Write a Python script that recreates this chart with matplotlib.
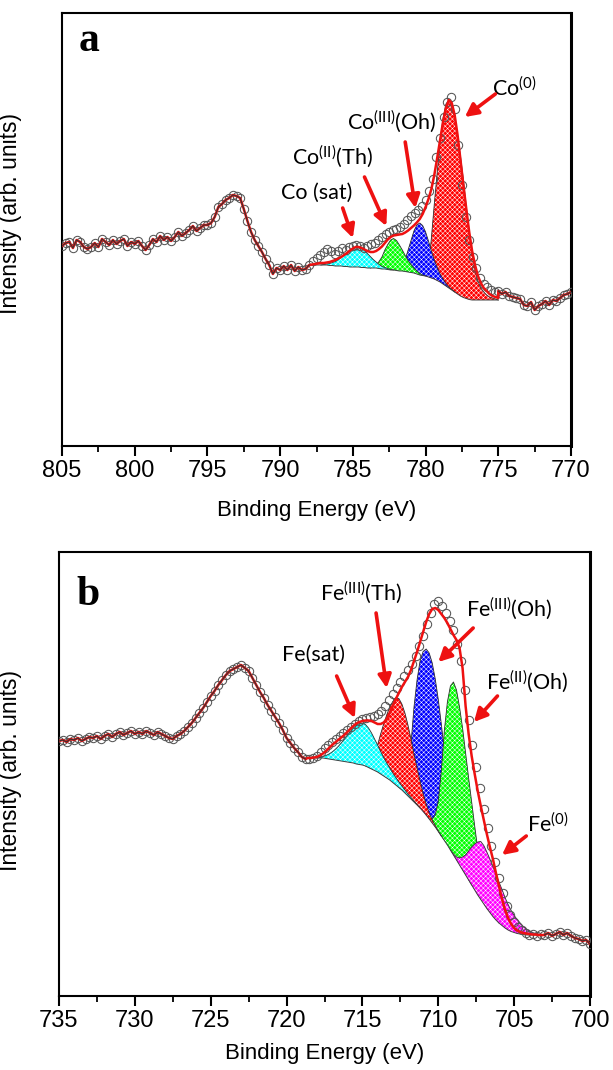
import numpy as np
import matplotlib
matplotlib.use("Agg")
import matplotlib.pyplot as plt
from matplotlib import font_manager

# ---------------- Panel a : Co 2p ----------------
co_e_start, co_e_step = 805.0, 0.25
co_data = [
    199, 202, 203, 197, 205, 203, 198, 196, 198, 202,   # 805.0 ..
    198, 206, 203, 200, 205, 201, 204, 206, 199, 203,   # 802.5 ..
    201, 204, 199, 195, 200, 206, 203, 209, 205, 208,   # 800.0 ..
    204, 208, 213, 209, 212, 215, 219, 214, 217, 220,   # 797.5 ..
    220, 222, 228, 238, 241, 245, 247, 250, 249, 247,   # 795.0 ..
    236, 224, 213, 205, 199, 193, 186, 180, 171, 177,   # 792.5 ..
    175, 179, 175, 180, 174, 178, 175, 176, 180, 184,   # 790.0 ..
    187, 190, 193, 196, 194, 191, 194, 197, 195, 198,   # 787.5 ..
    199, 200, 199, 197, 199, 201, 202, 205, 208, 211,   # 785.0 ..
    213, 215, 216, 218, 221, 225, 229, 232, 235, 239,   # 782.5 ..
    245, 254, 266, 288, 307, 328, 343, 348, 336, 300,   # 780.0 ..
    260, 228, 205, 188, 177, 167, 161, 158, 155, 153,   # 777.5 ..
    154, 151, 153, 149, 148, 147, 146, 140, 139, 143,   # 775.0 ..
    135, 139, 141, 144, 140, 145, 144, 147, 150, 151,   # 772.5 ..
    153,                                                # 770.0
]
co_fit_start, co_fit_step = 788.0, 0.2
co_bg = [
    180, 180, 180, 180, 180, 180, 180, 179.5, 179.5, 179, 179,
    179, 178.5, 178.5, 178, 178, 178, 178, 177.5, 177.5, 177, 177,
    177, 177, 176.5, 176, 176, 175.5, 175, 175, 174.5, 174, 174,
    173.5, 173, 172.5, 172, 171, 170, 169.5, 169, 168, 167, 166,
    164.5, 163, 161, 159, 157, 155, 153, 151, 149, 147.5, 146.5,
    145.5, 145, 145, 145, 145, 145, 145, 145, 145, 145, 145,
]
co_sat = [
    0, 0, 0, 0, 0, 0.5, 1, 2, 3, 4.5, 6.5,
    9, 11.5, 14, 16.5, 18.5, 19.8, 20, 19, 17, 14.5, 11.5,
    8.5, 6, 4, 2.5, 1.5, 1, 0.5, 0, 0, 0, 0,
    0, 0, 0, 0, 0, 0, 0, 0, 0, 0, 0,
    0, 0, 0, 0, 0, 0, 0, 0, 0, 0, 0,
    0, 0, 0, 0, 0, 0, 0, 0, 0, 0, 0,
]
co_th = [
    0, 0, 0, 0, 0, 0, 0, 0, 0, 0, 0,
    0, 0, 0, 0, 0, 0, 0, 0, 0, 0, 0,
    1, 3, 7, 12, 19, 25, 30, 31.5, 30, 26, 21,
    16, 11.5, 8, 5, 3, 1.5, 0.5, 0, 0, 0, 0,
    0, 0, 0, 0, 0, 0, 0, 0, 0, 0, 0,
    0, 0, 0, 0, 0, 0, 0, 0, 0, 0, 0,
]
co_oh = [
    0, 0, 0, 0, 0, 0, 0, 0, 0, 0, 0,
    0, 0, 0, 0, 0, 0, 0, 0, 0, 0, 0,
    0, 0, 0, 0, 0, 0, 0, 0, 0, 1, 4,
    12, 22, 32, 42, 49, 52, 50, 44, 36, 27, 19,
    13, 8, 5, 2.5, 1, 0.5, 0, 0, 0, 0, 0,
    0, 0, 0, 0, 0, 0, 0, 0, 0, 0, 0,
]
co_metal = [
    0, 0, 0, 0, 0, 0, 0, 0, 0, 0, 0,
    0, 0, 0, 0, 0, 0, 0, 0, 0, 0, 0,
    0, 0, 0, 0, 0, 0, 0, 0, 0, 0, 0,
    0, 0, 0, 0, 0, 0, 0, 3, 10, 40, 75,
    108, 140, 166, 182, 188, 185, 174, 158, 140, 118, 92,
    68, 46, 30, 19, 12, 8, 5, 3, 2, 1, 0,
]
co_env = [
    180, 180.5, 181, 181.5, 182, 182, 182.5, 183, 184, 185, 186.5,
    188, 190, 192, 194.5, 196.5, 198, 198, 197, 195.5, 194, 193,
    193, 194, 196, 198.5, 202, 205.5, 208, 209.5, 210, 210.5, 211,
    212.5, 214.5, 217, 219.5, 222.5, 226, 231, 238, 246, 256, 270,
    287, 305, 323, 337, 345, 342, 330, 310, 285, 260, 236,
    213, 194, 180, 169, 162, 157, 154, 151, 149, 148, 147,
]

# ---------------- Panel b : Fe 2p ----------------
fe_e_start, fe_e_step = 735.0, 0.25
fe_data = [
    255, 256, 254, 257, 256, 258, 255, 257, 259, 258,   # 735.0 ..
    260, 257, 260, 262, 259, 262, 264, 261, 263, 265,   # 732.5 ..
    262, 264, 262, 265, 263, 261, 264, 262, 260, 258,   # 730.0 ..
    257, 260, 262, 265, 269, 273, 278, 283, 288, 294,   # 727.5 ..
    300, 305, 311, 316, 321, 325, 327, 329, 331, 328,   # 725.0 ..
    325, 318, 311, 304, 298, 291, 285, 279, 273, 266,   # 722.5 ..
    258, 253, 248, 244, 239, 237, 237, 238, 240, 244,   # 720.0 ..
    248, 251, 254, 257, 260, 263, 266, 269, 272, 275,   # 717.5 ..
    277, 278, 279, 280, 282, 285, 290, 296, 302, 308,   # 715.0 ..
    314, 320, 326, 332, 340, 350, 360, 372, 383, 392,   # 712.5 ..
    395, 390, 383, 375, 366, 352, 335, 306, 276, 251,   # 710.0 ..
    229, 208, 187, 168, 150, 134, 118, 103, 90, 81,     # 707.5 ..
    74, 69, 66, 63, 61, 62, 60, 62, 61, 63,             # 705.0 ..
    60, 62, 64, 61, 63, 60, 58, 57, 55, 56,             # 702.5 ..
    52,                                                 # 700.0
]
fe_fit_start, fe_fit_step = 718.6, 0.2
fe_bg = [
    238, 238, 238, 238, 238, 238, 237.5, 237, 236.5, 236,
    235.5, 235, 234.5, 234, 233.5, 233, 232, 231.5, 231, 230,
    228.5, 227, 225.5, 224, 222, 220, 218, 216, 213.5, 211,
    208.5, 206, 203, 200, 197, 194, 191, 188, 184.5, 181,
    177, 173, 169, 164.5, 160, 155.5, 151, 146, 141, 136,
    131, 126, 121, 116, 111, 106, 101, 96.5, 92, 87.5,
    83.5, 79.5, 76, 73, 70.5, 68, 66, 64.5, 63.5, 62.5,
    62, 61.5, 61, 61, 61, 61, 61, 61, 61,
]
fe_sat = [
    0, 0, 0, 0, 0.5, 1.5, 3, 5, 7.5, 10.5,
    14, 18, 22, 26.5, 31, 35, 38.5, 41, 42, 41.5,
    39.5, 36, 31.5, 27, 22.5, 18.5, 15, 12, 9.5, 7.5,
    5.5, 4, 3, 2, 1.5, 1, 0.5, 0, 0, 0,
    0, 0, 0, 0, 0, 0, 0, 0, 0, 0,
    0, 0, 0, 0, 0, 0, 0, 0, 0, 0,
    0, 0, 0, 0, 0, 0, 0, 0, 0, 0,
    0, 0, 0, 0, 0, 0, 0, 0, 0,
]
fe3_th = [
    0, 0, 0, 0, 0, 0, 0, 0, 0, 0,
    0, 0, 0, 0, 0, 0, 0, 0, 0, 0,
    4, 8, 15, 27, 40, 52, 63, 73, 81, 87,
    89, 86, 80, 71, 60, 48, 37, 27, 18, 11,
    6, 3, 1.5, 0.5, 0, 0, 0, 0, 0, 0,
    0, 0, 0, 0, 0, 0, 0, 0, 0, 0,
    0, 0, 0, 0, 0, 0, 0, 0, 0, 0,
    0, 0, 0, 0, 0, 0, 0, 0, 0,
]
fe3_oh = [
    0, 0, 0, 0, 0, 0, 0, 0, 0, 0,
    0, 0, 0, 0, 0, 0, 0, 0, 0, 0,
    0, 0, 0, 0, 0, 0, 0, 0, 0, 0,
    0, 2, 6, 20, 55, 95, 125, 147, 160, 166,
    166, 160, 148, 132, 112, 90, 68, 48, 32, 19,
    10, 4, 1.5, 0.5, 0, 0, 0, 0, 0, 0,
    0, 0, 0, 0, 0, 0, 0, 0, 0, 0,
    0, 0, 0, 0, 0, 0, 0, 0, 0,
]
fe2_oh = [
    0, 0, 0, 0, 0, 0, 0, 0, 0, 0,
    0, 0, 0, 0, 0, 0, 0, 0, 0, 0,
    0, 0, 0, 0, 0, 0, 0, 0, 0, 0,
    0, 0, 0, 0, 0, 0, 0, 0, 0, 0,
    1, 4, 12, 30, 65, 110, 143, 164, 173, 170,
    158, 142, 122, 102, 83, 64, 46, 31, 19, 10,
    5, 2, 1, 0, 0, 0, 0, 0, 0, 0,
    0, 0, 0, 0, 0, 0, 0, 0, 0,
]
fe_metal = [
    0, 0, 0, 0, 0, 0, 0, 0, 0, 0,
    0, 0, 0, 0, 0, 0, 0, 0, 0, 0,
    0, 0, 0, 0, 0, 0, 0, 0, 0, 0,
    0, 0, 0, 0, 0, 0, 0, 0, 0, 0,
    0, 0, 0, 0, 0, 0, 0, 0, 1, 3,
    7, 13, 20, 29, 38, 46, 53, 58, 58.5, 56.5,
    53.5, 50, 46, 41, 36, 30.5, 25.5, 21, 17, 14,
    11, 8, 6, 4, 2.5, 1.5, 1, 0.5, 0,
]
fe_env = [
    238, 238, 238.5, 239, 240.5, 242.5, 245, 248, 251, 253.5,
    256, 258.5, 261, 264, 267, 270, 272.5, 274, 275, 275.5,
    275.5, 275, 273.5, 272, 272, 273.5, 277, 283, 290, 297,
    303, 309, 314, 319, 326, 335, 344, 354, 364, 374,
    382, 387, 388, 386, 382, 378, 373, 367, 361, 356,
    348, 328, 290, 262, 240, 222, 205, 190, 176, 162,
    149, 137, 123, 110, 97, 86, 78, 72, 68, 65.5,
    64, 63, 62.5, 62, 61.5, 61.5, 61, 61, 61,
]

# ---------------- style ----------------
names = {f.name for f in font_manager.fontManager.ttflist}
if "Liberation Sans Narrow" in names:
    TICK_FONT, TICK_SIZE = "Liberation Sans Narrow", 20
else:
    TICK_FONT, TICK_SIZE = "Liberation Sans", 17
ANN_FONT = "Lato"

plt.rcParams["font.family"] = ["Liberation Sans", "DejaVu Sans"]
plt.rcParams["hatch.linewidth"] = 0.35
plt.rcParams["mathtext.fontset"] = "custom"
plt.rcParams["mathtext.rm"] = ANN_FONT
plt.rcParams["mathtext.it"] = ANN_FONT + ":italic"
plt.rcParams["mathtext.bf"] = ANN_FONT + ":bold"

W, H = 613, 1070
fig = plt.figure(figsize=(W / 100, H / 100), dpi=100)


def add_ax(l, t, r, b):
    return fig.add_axes([l / W, 1 - b / H, (r - l) / W, (b - t) / H])


def grid(start, step, n):
    return start - step * np.arange(n)


def draw_panel(ax, e_start, e_step, data, f_start, f_step, bg, comps, env,
               xlim, ylim, majors, minors):
    data = np.asarray(data, float)
    e = grid(e_start, e_step, len(data))
    bg = np.asarray(bg, float)
    ef = grid(f_start, f_step, len(bg))
    env = np.asarray(env, float)

    for vals, color, z in comps:
        v = np.asarray(vals, float)
        ax.fill_between(ef, bg, bg + v, facecolor=color, edgecolor="white",
                        hatch="xxxxxxx", linewidth=0, zorder=z)
        nz = np.nonzero(v)[0]
        sl = slice(max(nz[0] - 1, 0), nz[-1] + 2)
        ax.plot(ef[sl], (bg + v)[sl], color="#303030", lw=0.6, zorder=z + 0.1)
    ax.plot(ef, bg, color="#404040", lw=0.7, zorder=10)

    left = e >= ef[0]
    right = e <= ef[-1]
    ax.plot(e, data, "o", ms=6, mfc="none", mec="#555555", mew=0.75,
            zorder=11)
    red_e = np.concatenate([e[left], ef, e[right]])
    red_i = np.concatenate([data[left], env, data[right]])
    ax.plot(red_e, red_i, color="#ee1111", lw=1.8, zorder=12)
    ax.plot(e[left], data[left], color="#333333", lw=0.8, zorder=13)
    ax.plot(e[right], data[right], color="#333333", lw=0.8, zorder=13)

    ax.set_xlim(*xlim)
    ax.set_ylim(*ylim)
    ax.set_xticks(majors)
    ax.set_xticks(minors, minor=True)
    ax.set_yticks([])
    ax.tick_params(axis="x", which="major", direction="out", length=7,
                   width=1.5, pad=3, labelsize=TICK_SIZE, top=False)
    ax.tick_params(axis="x", which="minor", direction="out", length=4,
                   width=1.3, top=False)
    for lab in ax.get_xticklabels():
        lab.set_family(TICK_FONT)
    for s in ax.spines.values():
        s.set_linewidth(1.5)
    ax.spines["right"].set_linewidth(2.2)
    ax.set_xlabel("Binding Energy (eV)", fontsize=16)
    ax.set_ylabel("Intensity (arb. units)", fontsize=16.5)


def label(ax, x, y, s, tail, tip):
    ax.text(x, y, s, ha="center", va="center", fontsize=15.5,
            family=ANN_FONT, zorder=20)
    ax.annotate("", xy=tip, xytext=tail, zorder=20,
                arrowprops=dict(arrowstyle="-|>,head_length=0.55,head_width=0.28",
                                color="#ee1111", lw=2.6, mutation_scale=14,
                                shrinkA=0, shrinkB=0))


# ---- panel a
axa = add_ax(62, 13, 571, 446)
draw_panel(axa, co_e_start, co_e_step, co_data, co_fit_start, co_fit_step,
           co_bg,
           [(co_metal, "#ff0000", 2), (co_oh, "#0000ff", 3),
            (co_th, "#00ff00", 4), (co_sat, "#00ffff", 5)],
           co_env, (805, 770), (-1, 432),
           np.arange(805, 769, -5), np.arange(802.5, 770, -5))
axa.xaxis.set_label_coords(0.5, -0.125)
axa.yaxis.set_label_coords(-0.079, 0.536)
axa.text(0.053, 0.935, "a", transform=axa.transAxes, ha="center",
         va="center", fontsize=30, fontweight="bold", family="Liberation Serif")
label(axa, 787.5, 252, "Co (sat)", (785.7, 237), (785.0, 207))
label(axa, 786.4, 288, r"Co$^{\mathrm{(II)}}$(Th)", (784.2, 268), (782.7, 219))
label(axa, 782.3, 323, r"Co$^{\mathrm{(III)}}$(Oh)", (781.4, 303), (780.7, 237))
label(axa, 773.9, 357, r"Co$^{\mathrm{(0)}}$", (775.2, 351), (777.3, 328))

# ---- panel b
axb = add_ax(59, 552, 590, 996)
draw_panel(axb, fe_e_start, fe_e_step, fe_data, fe_fit_start, fe_fit_step,
           fe_bg,
           [(fe3_oh, "#0000ff", 2), (fe2_oh, "#00ff00", 3),
            (fe_metal, "#ff00ff", 4), (fe3_th, "#ff0000", 5),
            (fe_sat, "#00ffff", 6)],
           fe_env, (735, 700), (0, 444),
           np.arange(735, 699, -5), np.arange(732.5, 700, -5))
axb.xaxis.set_label_coords(0.5, -0.105)
axb.yaxis.set_label_coords(-0.07, 0.509)
axb.text(0.054, 0.903, "b", transform=axb.transAxes, ha="center",
         va="center", fontsize=30, fontweight="bold", family="Liberation Serif")
label(axb, 718.2, 341, "Fe(sat)", (716.7, 320), (715.5, 278))
label(axb, 715.1, 403, r"Fe$^{\mathrm{(III)}}$(Th)", (714.1, 383), (713.4, 308))
label(axb, 705.3, 387, r"Fe$^{\mathrm{(III)}}$(Oh)", (707.7, 368), (710.0, 334))
label(axb, 704.15, 314, r"Fe$^{\mathrm{(II)}}$(Oh)", (706.1, 300), (707.65, 274))
label(axb, 702.8, 172, r"Fe$^{\mathrm{(0)}}$", (704.2, 160), (705.8, 141))

fig.savefig("out.png", dpi=100)
